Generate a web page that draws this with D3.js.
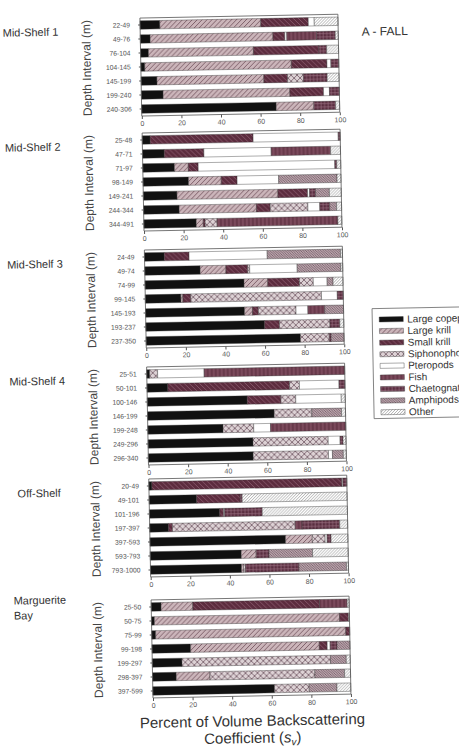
<!DOCTYPE html>
<meta charset="utf-8">
<title>Percent of Volume Backscattering - Fall</title>
<style>
body { margin: 0; background: #fff; }
svg { display: block; font-family: "Liberation Sans", Arial, sans-serif; }
</style>
<svg width="459" height="751"></svg>
<script src="https://cdn.jsdelivr.net/npm/d3@7"></script>
<script>

// categories in stacking order (left to right in every bar)
var categories = ["Large copepods", "Large krill", "Small krill", "Siphonophores",
  "Pteropods", "Fish", "Chaetognaths", "Amphipods", "Other"];

var regions = ["Mid-Shelf 1", "Mid-Shelf 2", "Mid-Shelf 3", "Mid-Shelf 4", "Off-Shelf", "Marguerite Bay"];

var depths = [
  ["22-49", "49-76", "76-104", "104-145", "145-199", "199-240", "240-306"],
  ["25-48", "47-71", "71-97", "98-149", "149-241", "244-344", "344-491"],
  ["24-49", "49-74", "74-99", "99-145", "145-193", "193-237", "237-350"],
  ["25-51", "50-101", "100-146", "146-199", "199-248", "249-296", "296-340"],
  ["20-49", "49-101", "101-196", "197-397", "397-593", "593-793", "793-1000"],
  ["25-50", "50-75", "75-99", "99-198", "199-297", "298-397", "397-599"]
];

// percent of Sv per category, one row per depth interval
var midShelf1 = [
  [10, 51, 24, 0, 3, 0, 0, 0, 12],
  [5, 62, 6, 0, 1, 15, 9.5, 0, 1.5],
  [4, 53, 33, 0, 0, 0, 4, 0, 6],
  [2, 74, 18, 0, 2, 0, 4, 0, 0],
  [8, 54, 12, 8, 0, 0, 12, 0, 6],
  [11, 64, 17, 0, 3, 0, 5, 0, 0],
  [68, 19, 0, 0, 0, 0, 11, 0, 2]
];
var midShelf2 = [
  [4, 0, 52, 0, 43, 0, 1, 0, 0],
  [11, 0, 20, 0, 34, 30, 0, 0, 5],
  [16, 7, 5, 0, 69, 0, 1, 0, 2],
  [23, 16.5, 8, 0, 21, 0, 0, 29.5, 2],
  [17, 51, 15, 0, 1, 0, 3, 7, 6],
  [18, 39, 7, 19, 6, 0, 5, 3.5, 2.5],
  [26.5, 3.5, 1, 6, 0, 61, 0, 0, 2]
];
var midShelf3 = [
  [10, 0, 12.5, 0, 39.5, 0, 0, 37, 1],
  [28, 13, 11, 1, 24, 0, 0, 22, 1],
  [50, 12, 16, 7, 7, 0, 0, 3, 5],
  [18, 1, 4, 66, 8, 0, 3, 0, 0],
  [50, 4, 3, 19, 6, 8.5, 0, 9.5, 0],
  [60, 0, 7.5, 25.5, 0, 0, 5, 0, 2],
  [78, 0, 0, 14.5, 0, 0, 1, 6.5, 0]
];
var midShelf4 = [
  [1.5, 0, 0, 4, 23.5, 71, 0, 0, 0],
  [10.5, 0, 61.5, 5, 20, 0, 3, 0, 0],
  [50.5, 0, 17, 7.5, 23, 0, 0, 0, 2],
  [64, 0, 0, 19, 0, 0, 0, 15, 2],
  [38, 0, 0, 15.5, 8.5, 38, 0, 0, 0],
  [53, 0, 0, 38, 6, 0, 1.5, 0, 1.5],
  [53, 0, 0, 38, 2, 0, 0, 5.5, 1.5]
];
var offShelf = [
  [1.5, 0, 96, 0, 0.5, 0, 2, 0, 0],
  [24, 0, 22, 0, 0, 0, 1, 0, 53],
  [35.5, 0, 2, 0, 0.5, 0, 19, 0, 43],
  [9.5, 0, 2, 62, 0, 3.5, 19, 0, 4],
  [68.5, 13.5, 0, 6.5, 1, 0, 2, 0, 8.5],
  [46, 7.5, 0, 0, 0, 0, 6.5, 22, 18],
  [46, 1, 0, 1, 0, 0, 27, 24, 1]
];
var margueriteBay = [
  [5, 16, 64, 0, 0, 14, 0, 0, 1],
  [1.5, 93.5, 4.5, 0, 0, 0, 0, 0, 0.5],
  [2, 96, 2, 0, 0, 0, 0, 0, 0],
  [19.5, 65, 4, 0, 1.5, 0, 3.5, 6.5, 0],
  [15, 0, 0, 75, 0, 0, 0, 8, 2],
  [12, 17, 0, 53, 0, 0, 0, 15, 3],
  [61.5, 0, 0, 17.5, 0, 0, 0, 14, 7]
];
var panelValues = [midShelf1, midShelf2, midShelf3, midShelf4, offShelf, margueriteBay];
var xTicks = [0, 20, 40, 60, 80, 100];

var svg = d3.select("svg");
var defs = svg.append("defs");

// fill patterns, imitating the scanned hatching
function hatch(id, size, bg, lines, stroke, sw) {
  var p = defs.append("pattern").attr("id", id)
      .attr("patternUnits", "userSpaceOnUse")
      .attr("width", size).attr("height", size);
  p.append("rect").attr("width", size).attr("height", size).attr("fill", bg);
  lines.forEach(function(d) {
    p.append("path").attr("d", d).attr("stroke", stroke)
      .attr("stroke-width", sw).attr("fill", "none");
  });
}
hatch("lk", 5, "#cbb5ba", ["M0,5 L5,0 M-1,1 L1,-1 M4,6 L6,4"], "#6b4a56", 0.8);
hatch("sk", 5, "#5c2c3e", ["M0,0 L5,5 M4,-1 L6,1 M-1,4 L1,6"], "#8e6072", 0.8);
hatch("siph", 6, "#ddd2d5", ["M0,0 L6,6 M6,0 L0,6"], "#6e5662", 0.8);
hatch("fish", 4, "#7b4a5c", ["M1,0 L1,4"], "#4a1f30", 0.8);
hatch("chaet", 3.5, "#5a2e40", ["M1,0 L1,3.5 M0,1.5 L3.5,1.5"], "#9c7282", 0.6);
hatch("amph", 2.5, "#b9a3ab", ["M0,0 L2.5,2.5 M2,-0.5 L3,0.5 M-0.5,2 L0.5,3"], "#5c4450", 0.6);
hatch("other", 3, "#ffffff", ["M0,3 L3,0 M-1,1 L1,-1 M2,4 L4,2"], "#7a7a7a", 0.6);

var fills = ["#111111", "url(#lk)", "url(#sk)", "url(#siph)", "#ffffff",
  "url(#fish)", "url(#chaet)", "url(#amph)", "url(#other)"];

// the scan is slightly tilted; draw straight and rotate everything a little
var root = svg.append("g").attr("transform", "rotate(-1.1,250,360)");

var x0 = 146.5, plotW = 198, plotH = 98;
var panelTops = [16, 131, 248, 365, 477, 598];

var stack = d3.stack().keys(d3.range(categories.length));

panelValues.forEach(function(rows, pi) {
  var top = panelTops[pi];
  var g = root.append("g").attr("transform", "translate(" + x0 + "," + top + ")");

  var x = d3.scaleLinear().domain([0, 100]).range([0, plotW]);
  var y = d3.scaleBand().domain(depths[pi]).range([0, plotH])
      .paddingInner(0.4).paddingOuter(0.2);

  var series = stack(rows);

  g.selectAll("g.layer")
    .data(series)
    .enter().append("g")
      .attr("class", "layer")
      .attr("fill", function(d, i) { return fills[i]; })
    .selectAll("rect")
    .data(function(d) { return d; })
    .enter().append("rect")
      .attr("x", function(d) { return x(d[0]); })
      .attr("y", function(d, i) { return y(depths[pi][i]); })
      .attr("width", function(d) { return Math.max(0, x(d[1]) - x(d[0])); })
      .attr("height", y.bandwidth())
      .attr("stroke", "#333")
      .attr("stroke-width", 0.4);

  g.append("rect")
    .attr("width", plotW).attr("height", plotH)
    .attr("fill", "none").attr("stroke", "#555").attr("stroke-width", 0.8);

  var xa = g.append("g").attr("transform", "translate(0," + plotH + ")")
    .call(d3.axisBottom(x).tickValues(xTicks).tickSize(3).tickPadding(2));
  xa.select(".domain").remove();
  xa.selectAll("line").attr("stroke", "#555");
  xa.selectAll("text").attr("font-size", 7).attr("fill", "#555")
    .attr("font-family", "Liberation Sans, Arial, sans-serif");

  var ya = g.append("g")
    .call(d3.axisLeft(y).tickSize(2).tickPadding(8));
  ya.select(".domain").remove();
  ya.selectAll("line").attr("stroke", "#555");
  ya.selectAll("text").attr("font-size", 6.8).attr("fill", "#555")
    .attr("font-family", "Liberation Sans, Arial, sans-serif");

  g.append("text")
    .attr("transform", "translate(-50," + (plotH / 2) + ") rotate(-90)")
    .attr("text-anchor", "middle")
    .attr("font-size", 12).attr("fill", "#444")
    .text("Depth Interval (m)");

  var lx = pi === 4 ? 15 : 9;
  var words = regions[pi] === "Marguerite Bay" ? ["Marguerite", "Bay"] : [regions[pi]];
  var ly = words.length > 1 ? 2 : 16;
  words.forEach(function(w, k) {
    root.append("text")
      .attr("x", lx).attr("y", top + ly + k * 15)
      .attr("font-size", 11).attr("fill", "#333")
      .text(w);
  });
});

root.append("text")
  .attr("x", 368).attr("y", 38)
  .attr("font-size", 12).attr("fill", "#333")
  .text("A - FALL");

// legend
var legend = root.append("g").attr("transform", "translate(373,311)");
legend.append("rect")
  .attr("width", 110).attr("height", 110)
  .attr("fill", "#fff").attr("stroke", "#666").attr("stroke-width", 0.8);
var item = legend.selectAll("g.item")
  .data(categories)
  .enter().append("g")
    .attr("class", "item")
    .attr("transform", function(d, i) { return "translate(7," + (11 + i * 11.6) + ")"; });
item.append("rect")
  .attr("y", -2.5).attr("width", 24).attr("height", 5)
  .attr("fill", function(d, i) { return fills[i]; })
  .attr("stroke", "#333").attr("stroke-width", 0.4);
item.append("text")
  .attr("x", 28).attr("dy", "0.35em")
  .attr("font-size", 10).attr("fill", "#333")
  .text(function(d) { return d; });

// x axis title
root.append("text")
  .attr("x", x0 + plotW / 2).attr("y", 726)
  .attr("text-anchor", "middle")
  .attr("font-size", 15).attr("fill", "#333")
  .text("Percent of Volume Backscattering");
var xt2 = root.append("text")
  .attr("x", x0 + plotW / 2).attr("y", 743)
  .attr("text-anchor", "middle")
  .attr("font-size", 15).attr("fill", "#333");
xt2.append("tspan").text("Coefficient (");
xt2.append("tspan").attr("font-style", "italic").text("s");
xt2.append("tspan").attr("font-style", "italic").attr("font-size", 10).attr("dy", 3).text("v");
xt2.append("tspan").attr("dy", -3).text(")");

</script>
